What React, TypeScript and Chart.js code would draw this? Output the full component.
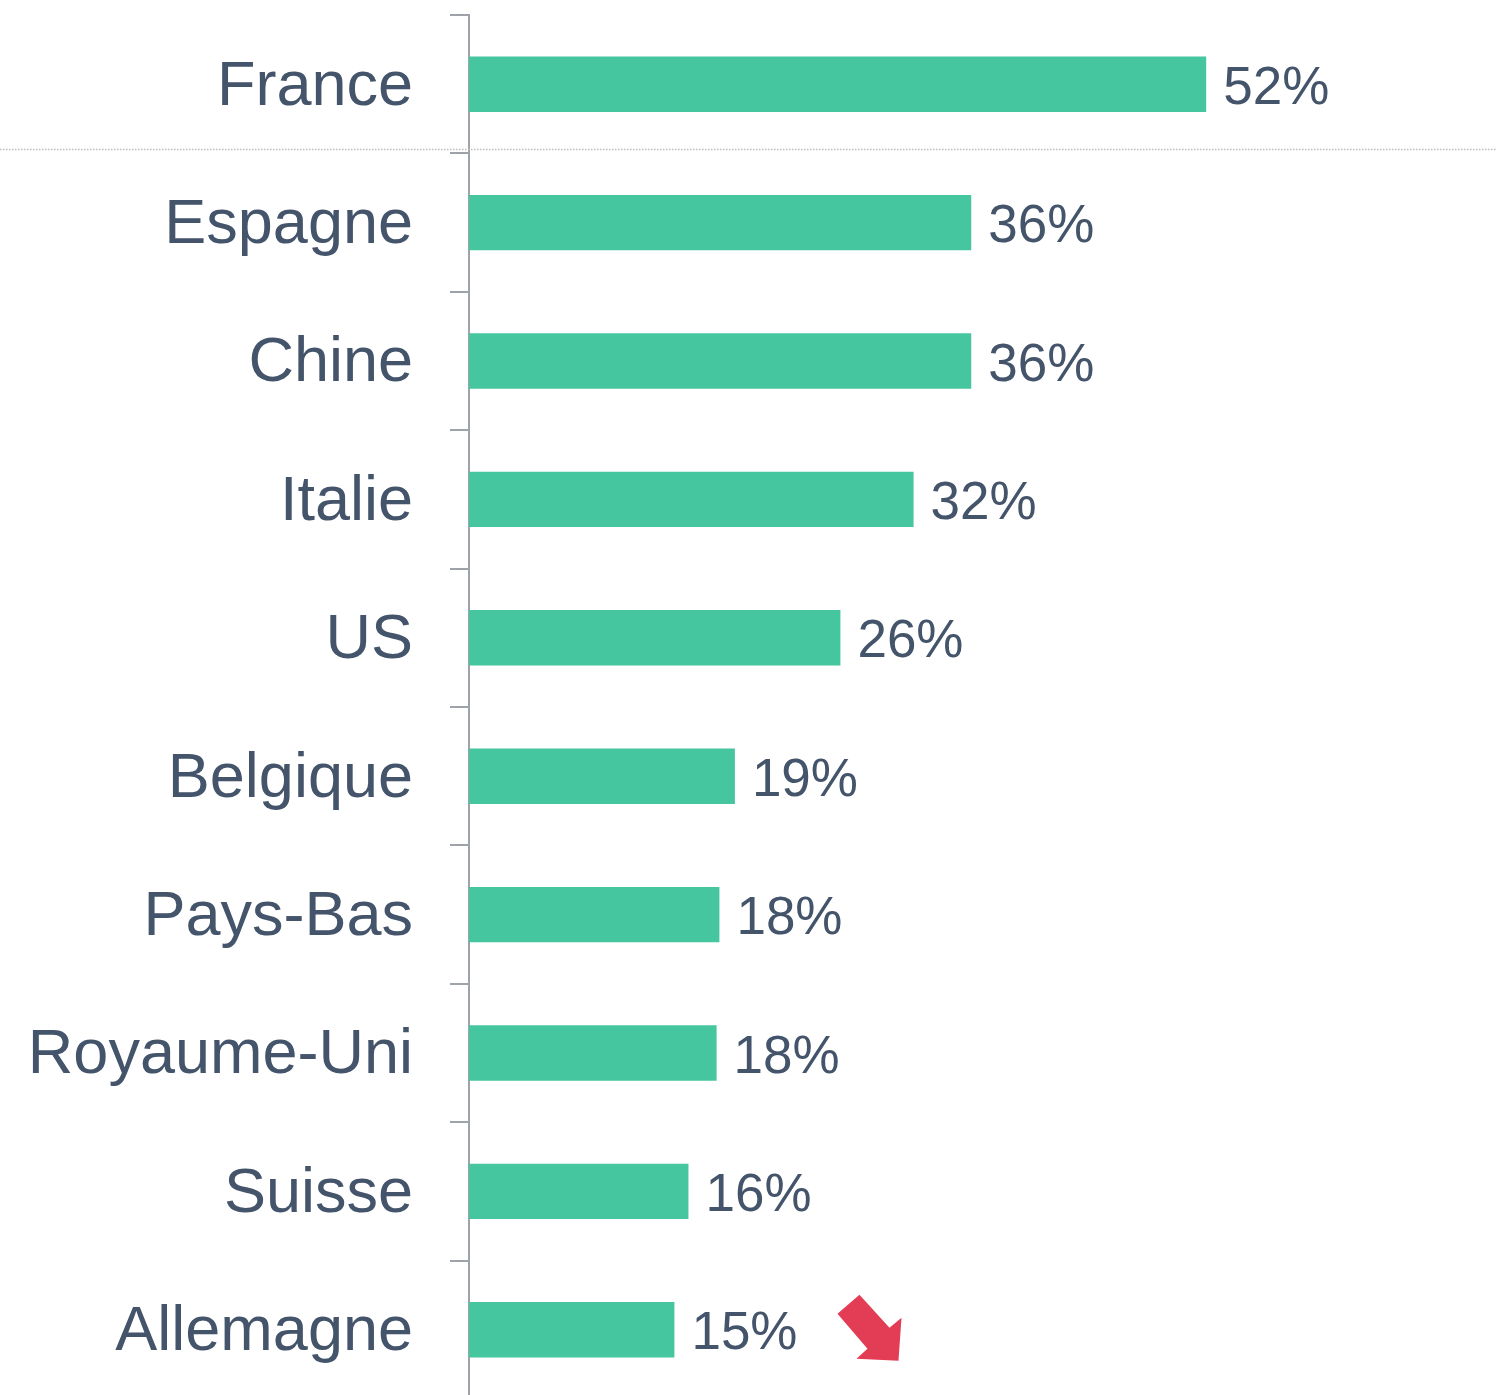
import React, { useEffect, useRef } from "react";
import { Chart, registerables } from "chart.js";

Chart.register(...registerables);

const categories = ["France", "Espagne", "Chine", "Italie", "US", "Belgique", "Pays-Bas", "Royaume-Uni", "Suisse", "Allemagne"];
const shares = [52.4, 35.7, 35.7, 31.6, 26.4, 18.9, 17.8, 17.6, 15.6, 14.6];
const downTrend = ["Allemagne"];
const separatorAfter = ["France"];

const TEXT = "#44546A";
const BAR = "#45C69E";
const AXIS = "#9EA2A9";
const FONT = "'Liberation Sans', Arial, sans-serif";

const overlayPlugin = {
  id: "overlay",
  afterDatasetsDraw(chart: any) {
    const { ctx } = chart;
    const meta = chart.getDatasetMeta(0);
    const yScale = chart.scales.y;
    ctx.save();
    // separator
    separatorAfter.forEach((name) => {
      const i = categories.indexOf(name);
      if (i < 0) return;
      const y = Math.round(yScale.getPixelForValue(i + 0.5) - 4.5) + 0.5;
      ctx.strokeStyle = "#BDBDBD";
      ctx.lineWidth = 1.5;
      ctx.setLineDash([1.5, 1.5]);
      ctx.beginPath();
      ctx.moveTo(0, y);
      ctx.lineTo(chart.width, y);
      ctx.stroke();
      ctx.setLineDash([]);
    });
    // value labels
    ctx.font = `53px ${FONT}`;
    ctx.fillStyle = TEXT;
    ctx.textBaseline = "middle";
    ctx.textAlign = "left";
    meta.data.forEach((bar: any, i: number) => {
      const txt = Math.round(shares[i]) + "%";
      const x = bar.x + 17;
      const y = bar.y + 5;
      ctx.fillText(txt, x, y);
      if (downTrend.includes(categories[i])) {
        const w = ctx.measureText(txt).width;
        const ax = x + w + 40;
        const ay = bar.y;
        const pts = [
          [0, -16], [22, -35], [52, -2], [64, -12], [61, 31], [19, 29], [30, 19],
        ];
        ctx.fillStyle = "#E33C55";
        ctx.beginPath();
        pts.forEach(([px, py], k) => {
          if (k === 0) ctx.moveTo(ax + px, ay + py);
          else ctx.lineTo(ax + px, ay + py);
        });
        ctx.closePath();
        ctx.fill();
        ctx.fillStyle = TEXT;
      }
    });
    ctx.restore();
  },
};

export default function App() {
  const ref = useRef<HTMLCanvasElement>(null);
  useEffect(() => {
    if (!ref.current) return;
    const chart = new Chart(ref.current, {
      type: "bar",
      data: {
        labels: categories,
        datasets: [
          {
            data: shares,
            backgroundColor: BAR,
            borderWidth: 0,
            barPercentage: 0.4,
            categoryPercentage: 1,
          },
        ],
      },
      options: {
        indexAxis: "y",
        animation: false,
        responsive: false,
        devicePixelRatio: 1,
        layout: { padding: { top: 15, bottom: 1, left: 0, right: 0 } },
        plugins: { legend: { display: false }, tooltip: { enabled: false } },
        scales: {
          x: {
            display: false,
            min: 0,
            max: 73,
            grid: { display: false },
          },
          y: {
            grid: {
              display: true,
              drawOnChartArea: false,
              drawTicks: true,
              tickLength: 19,
              color: AXIS,
              lineWidth: 2,
              offset: true,
            },
            border: { display: true, color: AXIS, width: 2 },
            ticks: {
              color: TEXT,
              font: { family: FONT, size: 63, lineHeight: 0.2 },
              padding: 37,
              labelOffset: 3,
              autoSkip: false,
            },
            afterFit: (s: any) => {
              s.width = 469;
              s.paddingTop = 0;
              s.paddingBottom = 0;
            },
          },
        },
      } as any,
      plugins: [overlayPlugin],
    });
    return () => chart.destroy();
  }, []);
  return (
    <div style={{ position: "fixed", left: 0, top: 0, width: 1496, height: 1395, overflow: "hidden", background: "#fff" }}>
      <canvas ref={ref} width={1496} height={1400} />
    </div>
  );
}
